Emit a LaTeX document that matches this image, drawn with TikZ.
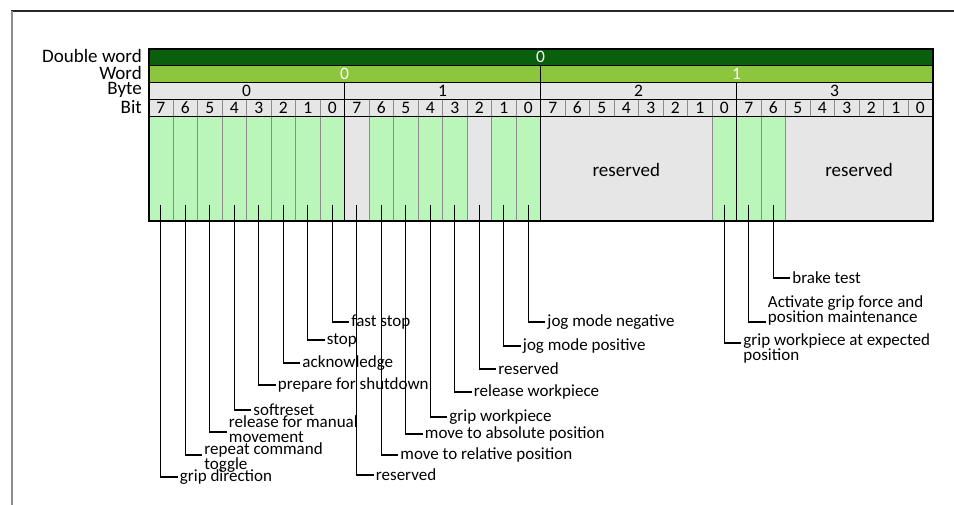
\documentclass[tikz,border=0pt]{standalone}
\usepackage{fontspec}
\setmainfont{Carlito}
\usetikzlibrary{positioning}

\definecolor{dwGreen}  {RGB}{10,95,12}
\definecolor{wGreen}   {RGB}{140,198,63}
\definecolor{cellGrey} {RGB}{230,230,230}
\definecolor{bitGreen} {RGB}{186,245,186}
\colorlet{sepLine}{black!45}

\tikzset{
  hdr/.style={anchor=east, inner sep=0pt, font=\fontsize{19}{19}\selectfont},
  cellnum/.style={anchor=base, inner sep=0pt, font=\fontsize{17.5}{17.5}\selectfont},
  lbl/.style={anchor=west, align=left, inner sep=2pt,
              font=\fontsize{17}{15}\selectfont},
  lead/.style={line width=1.4pt}
}

\begin{document}
\begin{tikzpicture}[x=1pt, y=-1pt]
  \useasboundingbox (0,0) rectangle (954,505);
  \draw[black!85, line width=1.2pt] (11,11) -- (954,11);
  \draw[black!45, line width=1.4pt] (12,11) -- (12,505);

  % header rows
  \fill[dwGreen]  (148.5,49)   rectangle (932.5,65.5);
  \fill[wGreen]   (148.5,65.5) rectangle (932.5,82.5);
  \fill[cellGrey] (148.5,82.5) rectangle (932.5,116.5);

  \node[hdr] (hDW)   at (142,56)  {Double word};
  \node[hdr] (hWord) at (142,73)  {Word};
  \node[hdr] (hByte) at (142,90)  {Byte};
  \node[hdr] (hBit)  at (142,107) {Bit};

  \node[cellnum, white] (dw0) at (540.5,62.5) {0};
  \node[cellnum, white] (w0)  at (344.5,79.5) {0};
  \node[cellnum, white] (w1)  at (736.5,79.5) {1};
  \foreach \b in {0,...,3}
    \node[cellnum] (by\b) at ({148.5+196*\b+98},96.5) {\b};

  % bit row
  \foreach \k in {0,...,31}{
    \pgfmathtruncatemacro\bitno{7-mod(\k,8)}
    \draw[sepLine] ({148.5+24.5*\k},99.5) -- ({148.5+24.5*\k},116.5);
    \node[cellnum] (bit\k) at ({160.75+24.5*\k},113.5) {\bitno};
  }

  % data cells
  \foreach \a/\e/\c in {0/1/bitGreen, 1/2/bitGreen, 2/3/bitGreen, 3/4/bitGreen,
      4/5/bitGreen, 5/6/bitGreen, 6/7/bitGreen, 7/8/bitGreen,
      8/9/cellGrey, 9/10/bitGreen, 10/11/bitGreen, 11/12/bitGreen, 12/13/bitGreen,
      13/14/cellGrey, 14/15/bitGreen, 15/16/bitGreen,
      16/23/cellGrey, 23/24/bitGreen, 24/25/bitGreen, 25/26/bitGreen, 26/32/cellGrey}
    \filldraw[fill=\c, draw=sepLine] ({148.5+24.5*\a},116.5)
      rectangle ({148.5+24.5*\e},221);
  \node[font=\fontsize{19}{19}\selectfont] (res2) at (626.25,170) {reserved};
  \node[font=\fontsize{19}{19}\selectfont] (res3) at (859,170) {reserved};

  % grid lines
  \foreach \yy in {65.5,82.5,99.5,116.5}
    \draw[line width=1.6pt] (148.5,\yy) -- (932.5,\yy);
  \foreach \k in {8,24}
    \draw[line width=1.8pt] ({148.5+24.5*\k},82.5) -- ({148.5+24.5*\k},221);
  \draw[line width=1.8pt] (540.5,65.5) -- (540.5,221);
  \draw[line width=2pt] (148.5,49) rectangle (932.5,221);

  % leaders and labels
  \foreach \k/\y/\d/\t in {
      0/477/0/{grip direction},
      1/455/3/{repeat command\\toggle},
      2/432/-3/{release for manual\\movement},
      3/410/0/{softreset},
      4/385/0/{prepare for shutdown},
      5/363/0/{acknowledge},
      6/340/0/{stop},
      7/322/0/{fast stop},
      8/475/0/{reserved},
      9/455/0/{move to relative position},
      10/434/0/{move to absolute position},
      11/417/0/{grip workpiece},
      12/392/0/{release workpiece},
      13/369/0/{reserved},
      14/346/0/{jog mode positive},
      15/322/0/{jog mode negative},
      23/343/5.5/{grip workpiece at expected\\position},
      24/322/-12/{Activate grip force and\\position maintenance},
      25/278/0/{brake test}}{
    \coordinate (t\k) at ({160.75+24.5*\k},205);
    \node[lbl] (l\k) at ({160.75+24.5*\k+17},\y+\d) {\t};
    \draw[lead] (t\k) |- ([yshift=\d pt]l\k.west);
  }
\end{tikzpicture}
\end{document}
